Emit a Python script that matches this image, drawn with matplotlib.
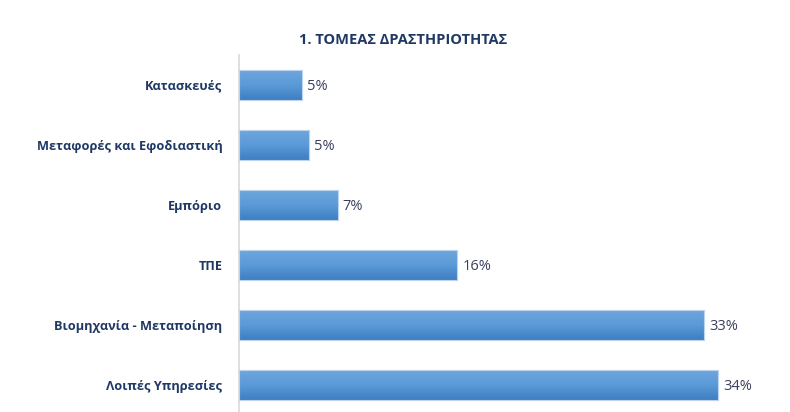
import matplotlib.pyplot as plt
import numpy as np
from matplotlib.colors import LinearSegmentedColormap

plt.rcParams['font.family'] = ['Open Sans', 'DejaVu Sans']

categories = ["Κατασκευές", "Μεταφορές και Εφοδιαστική", "Εμπόριο", "ΤΠΕ",
              "Βιομηχανία - Μεταποίηση", "Λοιπές Υπηρεσίες"]
values = [4.5, 5.0, 7.0, 15.5, 33.0, 34.0]
value_labels = ["5%", "5%", "7%", "16%", "33%", "34%"]
title = "1. ΤΟΜΕΑΣ ΔΡΑΣΤΗΡΙΟΤΗΤΑΣ"

navy = "#1f3864"
fig = plt.figure(figsize=(7.9, 4.12), dpi=100)
ax = fig.add_axes([239 / 790, 0.0, 1 - 239 / 790 - 10 / 790, (412 - 55) / 412])

y = np.arange(len(categories))
bars = ax.barh(y, values, height=0.5, color="#5b9bd5", edgecolor="#bcd4ee", linewidth=0.8, zorder=2)

# vertical gradient inside each bar (light top, darker bottom)
cmap = LinearSegmentedColormap.from_list("g", ["#6ea6dc", "#5a9ad8", "#3f7fc2"])
grad = np.linspace(0, 1, 64).reshape(-1, 1)
for b in bars:
    x0, y0, w, h = b.get_x(), b.get_y(), b.get_width(), b.get_height()
    ax.imshow(grad, cmap=cmap, aspect="auto", extent=(x0, x0 + w, y0 + h, y0),
              origin="upper", zorder=2.5, interpolation="bilinear")
    ax.plot([x0, x0 + w, x0 + w, x0, x0], [y0, y0, y0 + h, y0 + h, y0],
            color="#bcd4ee", lw=0.8, zorder=3)

for v, lab, yy in zip(values, value_labels, y):
    ax.text(v + 0.35, yy + 0.03, lab, va="center", ha="left", fontsize=10.5, color="#3a3f5c")

ax.set_xlim(0, 38.4)
ax.set_ylim(5.45, -0.5)
ax.set_yticks(y)
ax.set_yticklabels(categories, fontsize=9.2, fontweight="bold", color=navy)
ax.tick_params(axis="y", length=0, pad=12)
ax.set_xticks([])
for s in ["top", "right", "bottom"]:
    ax.spines[s].set_visible(False)
ax.spines["left"].set_color("#d9d9d9")
ax.spines["left"].set_linewidth(1.2)

fig.text(403 / 790, 1 - 40 / 412, title, ha="center", va="center",
         fontsize=10.5, fontweight="bold", color=navy)

fig.savefig("out.png", dpi=100)
